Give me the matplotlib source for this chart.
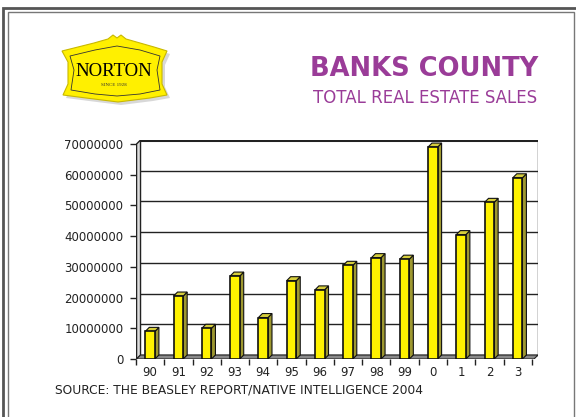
import matplotlib
matplotlib.use('Agg')
import matplotlib.pyplot as plt
import numpy as np
from matplotlib.patches import Polygon, Rectangle

# data
years = ['90', '91', '92', '93', '94', '95', '96', '97', '98', '99', '0', '1', '2', '3']
sales = [9.0e6, 20.5e6, 10.0e6, 27.0e6, 13.5e6, 25.5e6, 22.5e6, 30.5e6,
         33.0e6, 32.5e6, 69.0e6, 40.5e6, 51.0e6, 59.0e6]
yticks = [0, 10000000, 20000000, 30000000, 40000000, 50000000, 60000000, 70000000]

PURPLE = '#9A3C98'
YELLOW = '#FFF200'
SIDE = '#9E9830'
TOP = '#D6CE3C'
W, H = 576, 417

def fx(x): return x / W
def fy(y): return 1 - y / H

fig = plt.figure(figsize=(5.76, 4.17), dpi=100)
fig.patch.set_facecolor('white')

# double frame
fig.patches.append(Rectangle((fx(3), fy(430)), fx(578) - fx(3), fy(8) - fy(430),
                             transform=fig.transFigure, fill=False, ec='#555', lw=2))
fig.patches.append(Rectangle((fx(8), fy(430)), fx(574) - fx(8), fy(12) - fy(430),
                             transform=fig.transFigure, fill=False, ec='#777', lw=1))

# logo badge
badge = [(62, 51), (78, 47), (94, 43), (108, 39), (113, 35), (117, 38), (121, 35), (126, 39),
         (140, 43), (154, 47), (167, 51), (162, 62), (162, 84), (167, 95), (150, 98),
         (134, 100), (118, 102), (102, 100), (86, 98), (63, 95), (68, 84), (68, 62)]
shadow = Polygon([(fx(x + 3), fy(y + 3)) for x, y in badge], closed=True,
                 transform=fig.transFigure, fc='#c8c8c8', ec='none', alpha=0.7)
fig.patches.append(shadow)
fig.patches.append(Polygon([(fx(x), fy(y)) for x, y in badge], closed=True,
                           transform=fig.transFigure, fc='#FFF000', ec='#c8b800', lw=0.8))
inner = [(70, 56), (95, 50), (117, 46), (140, 50), (160, 56), (157, 70), (160, 90),
         (140, 94), (117, 96), (95, 94), (71, 90), (74, 70)]
fig.patches.append(Polygon([(fx(x), fy(y)) for x, y in inner], closed=True,
                           transform=fig.transFigure, fill=False, ec='#333', lw=0.6))
fig.text(fx(114), fy(72), 'NORTON', family='Liberation Serif', fontsize=13.5,
         ha='center', va='center', color='black')
fig.text(fx(114), fy(85), 'SINCE 1928', family='Liberation Serif', fontsize=3.6,
         ha='center', va='center', color='#333')

# titles
fig.text(fx(538), fy(69), 'BANKS COUNTY', fontsize=18.5, fontweight='bold',
         color=PURPLE, ha='right', va='center')
fig.text(fx(537), fy(98), 'TOTAL REAL ESTATE SALES', fontsize=12,
         color=PURPLE, ha='right', va='center')
fig.text(fx(55), fy(390), 'SOURCE: THE BEASLEY REPORT/NATIVE INTELLIGENCE 2004',
         fontsize=8.8, color='#222', ha='left', va='center')

# chart area (front face scale)
ax = fig.add_axes([fx(136), fy(359), fx(538) - fx(136), fy(140) - fy(359)])
x0, x1 = -0.48, 13.72
ymax = 71.3e6
dx, dy = 0.14, 1.3e6
ax.set_xlim(x0, x1)
ax.set_ylim(0, ymax)
for s in ax.spines.values():
    s.set_visible(False)

# back wall grid
for v in yticks:
    ax.plot([x0 + dx, x1], [v + dy, v + dy], color='#222', lw=1.0, zorder=1)
ax.plot([x0 + dx, x1], [70e6 + dy] * 2, color='#222', lw=2.2, zorder=1)
ax.plot([x1, x1], [dy, 70e6 + dy], color='#222', lw=1.0, zorder=1)
# left wall
ax.add_patch(Polygon([(x0, 0), (x0 + dx, dy), (x0 + dx, 70e6 + dy), (x0, 70e6)],
                     closed=True, fc='#ddd', ec='#222', lw=1.0, zorder=1))
# floor
ax.add_patch(Polygon([(x0, 0), (x1 - dx, 0), (x1, dy), (x0 + dx, dy)],
                     closed=True, fc='#8a8a8a', ec='#222', lw=0.8, zorder=1))

# 3D bars
bw = 0.34
for i, v in enumerate(sales):
    l, r = i - bw / 2, i + bw / 2
    ax.add_patch(Polygon([(r, 0), (r + dx, dy), (r + dx, v + dy), (r, v)],
                         closed=True, fc=SIDE, ec='#111', lw=0.8, zorder=3))
    ax.add_patch(Polygon([(l, v), (l + dx, v + dy), (r + dx, v + dy), (r, v)],
                         closed=True, fc=TOP, ec='#111', lw=0.8, zorder=3))
ax.bar(range(len(sales)), sales, width=bw, color=YELLOW, edgecolor='#111',
       linewidth=1.2, zorder=4)

ax.set_yticks(yticks)
ax.set_yticklabels([str(v) for v in yticks])
ax.set_xticks(range(len(years)))
ax.set_xticklabels(years)
ax.set_xticks(np.arange(-0.5, 14, 1.0), minor=True)
ax.tick_params(axis='y', length=4, width=1, color='#222', labelsize=8.5,
               labelcolor='#222', pad=5)
ax.tick_params(axis='x', which='major', length=0, labelsize=8.5,
               labelcolor='#222', pad=5)
ax.tick_params(axis='x', which='minor', length=4, width=1, color='#222')

fig.savefig('out.png', dpi=100, facecolor='white')
